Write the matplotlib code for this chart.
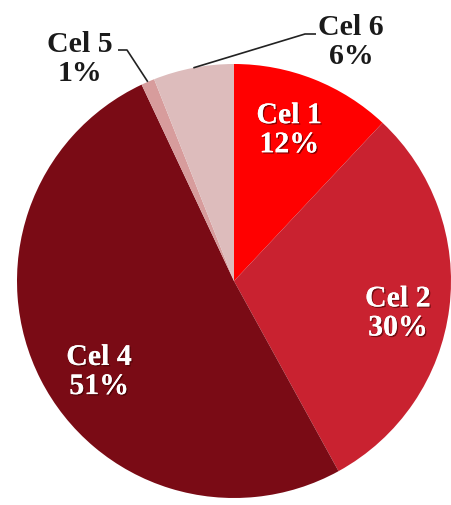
import numpy as np
import matplotlib
matplotlib.use('Agg')
import matplotlib.pyplot as plt
import matplotlib.patheffects as pe

categories = ['Cel 1', 'Cel 2', 'Cel 3', 'Cel 4', 'Cel 5', 'Cel 6']
values = [12, 30, 0, 51, 1, 6]
colors = ['#FF0000', '#C92230', '#A31525', '#7A0B15', '#D79C9C', '#DDBCBC']

W, H = 451, 505
cx, cy, R = 234, H - 281, 217

fig = plt.figure(figsize=(W / 100, H / 100), dpi=100)
ax = fig.add_axes([0, 0, 1, 1])

wedges, _ = ax.pie(values, colors=colors, startangle=90, counterclock=False,
                   center=(cx, cy), radius=R, frame=True)
ax.set_xlim(0, W)
ax.set_ylim(0, H)
ax.set_aspect('equal')
ax.axis('off')

font = dict(family='Liberation Serif', fontweight='bold', fontsize=21.5,
            linespacing=1.1)
shadow = [pe.withSimplePatchShadow(offset=(1, -1), shadow_rgbFace='#3a0000', alpha=0.6),
          pe.Normal()]

total = sum(values)
inside = {'Cel 1': 0.74, 'Cel 2': 0.77, 'Cel 4': 0.75}
# small angular tweaks so the labels sit where the original ones do
tweak = {'Cel 1': 1.5, 'Cel 2': -4.0, 'Cel 4': 7.0}
outside = {'Cel 5': ((80, H - 59), (127, H - 50)),
           'Cel 6': ((351, H - 42), (305, H - 34))}

for w, name, v in zip(wedges, categories, values):
    if v == 0:
        continue
    mid = np.deg2rad((w.theta1 + w.theta2) / 2)
    txt = '%s\n%d%%' % (name, round(v / total * 100))
    if name in inside:
        a = mid + np.deg2rad(tweak[name])
        r = inside[name] * R
        t = ax.text(cx + r * np.cos(a), cy + r * np.sin(a), txt, color='white',
                    ha='center', va='center', **font)
        t.set_path_effects(shadow)
    else:
        (tx, ty), (ex, ey) = outside[name]
        ax.text(tx, ty, txt, color='#1a1a1a', ha='center', va='center', **font)
        px, py = cx + R * np.cos(mid), cy + R * np.sin(mid)
        sx = ex - 9 if name == 'Cel 5' else ex + 11
        ax.plot([sx, ex, px], [ey, ey, py], color='#222222', lw=1.2,
                solid_capstyle='butt')

fig.savefig('out.png', dpi=100, facecolor='white')
